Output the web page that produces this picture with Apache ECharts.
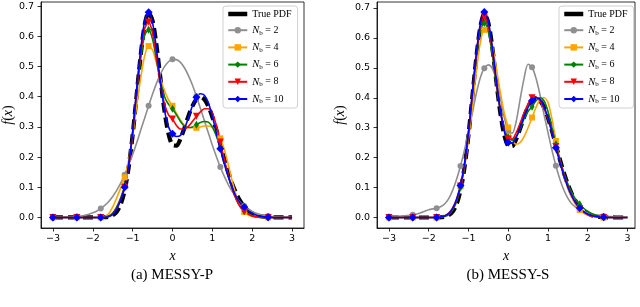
<!DOCTYPE html>
<html><head><meta charset="utf-8">
<script src="https://cdn.jsdelivr.net/npm/echarts@6/dist/echarts.min.js"></script>
<style>html,body{margin:0;padding:0;background:#fff}#c{width:640px;height:307px}</style>
</head><body><div id="c"></div>
<script>
const xs = [-3,-2.9,-2.8,-2.7,-2.6,-2.5,-2.4,-2.3,-2.2,-2.1,-2,-1.9,-1.8,-1.7,-1.6,-1.5,-1.4,-1.3,-1.2,-1.1,-1,
 -0.9,-0.8,-0.7,-0.6,-0.5,-0.4,-0.3,-0.2,-0.1,0,0.1,0.2,0.3,0.4,0.5,0.6,0.7,0.8,0.9,1,
 1.1,1.2,1.3,1.4,1.5,1.6,1.7,1.8,1.9,2,2.1,2.2,2.3,2.4,2.5,2.6,2.7,2.8,2.9,3];

const trueP = [0,0,0,0,0,0,0,0,0,0,0,
 0.0001,0.0002,0.0008,0.0026,0.0074,0.0191,0.0438,0.0903,0.1666,0.274,
 0.405,0.536,0.637,0.679,0.651,0.568,0.457,0.352,0.277,0.240,
 0.238,0.261,0.297,0.336,0.369,0.391,0.399,0.391,0.368,0.333,
 0.290,0.242,0.194,0.150,0.111,0.079,0.054,0.0355,0.0224,0.0136,
 0.0079,0.0044,0.0024,0.0012,0.0006,0.0003,0.0001,0.0001,0,0];

// MESSY-P
const p2 = [0.0002,0.0003,0.0005,0.0009,0.0014,0.0022,0.0033,0.0049,0.0073,0.0106,0.0152,
 0.0213,0.0294,0.0398,0.0531,0.0697,0.0898,0.1137,0.1416,0.1735,0.209,
 0.247,0.288,0.329,0.370,0.409,0.445,0.476,0.500,0.516,0.524,
 0.523,0.514,0.496,0.470,0.439,0.402,0.362,0.321,0.280,0.239,
 0.202,0.167,0.136,0.109,0.0854,0.0660,0.0502,0.0375,0.0276,0.0199,
 0.0141,0.0099,0.0068,0.0046,0.0030,0.0020,0.0013,0.0008,0.0005,0.0003];
const p4 = [0,0,0,0,0,0,0,0,0,0,0,0,0,
 0.003,0.012,0.035,0.065,0.098,0.133,0.19,0.27,
 0.37,0.46,0.535,0.568,0.555,0.51,0.46,0.42,0.39,0.37,
 0.345,0.322,0.305,0.298,0.297,0.297,0.30,0.303,0.303,0.298,
 0.285,0.262,0.225,0.175,0.12,0.072,0.038,0.018,0.008,0.003,
 0.001,0,0,0,0,0,0,0,0,0];
const p6 = [0,0,0,0,0,0,0,0,0,0,0,0,0,
 0.001,0.005,0.015,0.035,0.065,0.105,0.175,0.28,
 0.41,0.525,0.603,0.622,0.59,0.52,0.45,0.40,0.375,0.36,
 0.34,0.318,0.303,0.298,0.30,0.307,0.315,0.318,0.316,0.30,
 0.27,0.232,0.185,0.138,0.095,0.06,0.035,0.021,0.012,0.006,
 0.003,0.001,0,0,0,0,0,0,0,0];
const p8 = [0,0,0,0,0,0,0,0,0,0,0,0,0,0,
 0.003,0.012,0.03,0.06,0.10,0.17,0.28,
 0.42,0.54,0.625,0.648,0.61,0.53,0.44,0.375,0.34,0.326,
 0.305,0.293,0.293,0.302,0.318,0.335,0.35,0.36,0.36,0.345,
 0.305,0.25,0.192,0.14,0.095,0.06,0.035,0.02,0.011,0.005,
 0.002,0.001,0,0,0,0,0,0,0,0];
const p10 = [0,0,0,0,0,0,0,0,0,0,0,0,0,0,
 0.003,0.01,0.028,0.058,0.10,0.175,0.285,
 0.425,0.555,0.65,0.68,0.645,0.555,0.445,0.355,0.30,0.277,
 0.268,0.272,0.295,0.33,0.37,0.398,0.41,0.405,0.38,0.335,
 0.28,0.228,0.177,0.135,0.098,0.068,0.048,0.035,0.022,0.014,
 0.008,0.004,0.002,0.001,0,0,0,0,0,0];

// MESSY-S
const s2 = [0.002,0.003,0.004,0.005,0.006,0.007,0.009,0.012,0.016,0.021,0.026,
 0.029,0.031,0.036,0.045,0.062,0.09,0.127,0.172,0.225,0.285,
 0.35,0.415,0.468,0.499,0.51,0.498,0.46,0.40,0.335,0.29,
 0.282,0.32,0.395,0.465,0.512,0.502,0.465,0.41,0.345,0.285,
 0.225,0.173,0.128,0.092,0.065,0.046,0.034,0.026,0.02,0.016,
 0.012,0.009,0.007,0.005,0.004,0.003,0.002,0.002,0.001,0.001];
const s4 = [0,0,0,0,0,0,0,0,0,0,0,0,0,
 0.002,0.006,0.015,0.033,0.062,0.105,0.17,0.26,
 0.37,0.49,0.585,0.627,0.622,0.575,0.50,0.42,0.35,0.301,
 0.26,0.245,0.25,0.27,0.30,0.334,0.368,0.393,0.40,0.385,
 0.33,0.256,0.19,0.14,0.098,0.066,0.042,0.025,0.015,0.009,
 0.005,0.003,0.001,0,0,0,0,0,0,0];
const s6 = [0,0,0,0,0,0,0,0,0,0,0,0,0,0,
 0.003,0.01,0.025,0.052,0.10,0.17,0.275,
 0.41,0.535,0.625,0.65,0.62,0.545,0.445,0.36,0.30,0.268,
 0.258,0.27,0.295,0.33,0.355,0.37,0.39,0.40,0.39,0.355,
 0.30,0.245,0.195,0.15,0.113,0.083,0.06,0.044,0.031,0.021,
 0.013,0.008,0.004,0.002,0.001,0,0,0,0,0];
const s8 = [0,0,0,0,0,0,0,0,0,0,0,0,0,
 0.002,0.006,0.013,0.03,0.058,0.105,0.175,0.28,
 0.415,0.545,0.64,0.67,0.64,0.56,0.455,0.36,0.295,0.262,
 0.262,0.283,0.315,0.35,0.38,0.40,0.402,0.39,0.365,0.33,
 0.285,0.237,0.19,0.145,0.105,0.073,0.048,0.03,0.018,0.01,
 0.005,0.002,0.001,0,0,0,0,0,0,0];
const s10 = [0,0,0,0,0,0,0,0,0,0,0,0,0,
 0.002,0.005,0.013,0.03,0.06,0.107,0.18,0.285,
 0.42,0.55,0.648,0.687,0.655,0.57,0.46,0.36,0.29,0.251,
 0.248,0.268,0.30,0.338,0.368,0.39,0.40,0.395,0.37,0.335,
 0.285,0.233,0.185,0.14,0.102,0.072,0.048,0.032,0.02,0.012,
 0.007,0.004,0.002,0.001,0,0,0,0,0,0];

const xTicks = [-3,-2,-1,0,1,2,3];
const yTicks = [0,0.1,0.2,0.3,0.4,0.5,0.6,0.7];
const markerXs = [-3,-2.4,-1.8,-1.2,-0.6,0,0.6,1.2,1.8,2.4];
const names = ['True PDF','N_b = 2','N_b = 4','N_b = 6','N_b = 8','N_b = 10'];
const captions = ['(a) MESSY-P','(b) MESSY-S'];

const styles = [
  {color:'#000000', symbol:'none', width:4.2, dash:[10,5]},
  {color:'#8f8f8f', symbol:'circle', size:6},
  {color:'#ffa500', symbol:'rect', size:6},
  {color:'#008000', symbol:'path://M0,-5L2.2,0L0,5L-2.2,0Z', size:[5,8]},
  {color:'#ff0000', symbol:'triangle', size:7, rotate:180},
  {color:'#0000ff', symbol:'diamond', size:8}
];

function isMarker(x){ return markerXs.some(m => Math.abs(m - x) < 1e-6); }

function mk(ys, k, gi){
  const st = styles[k];
  return {
    type:'line', name:names[k], xAxisIndex:gi, yAxisIndex:gi,
    smooth:0.3, symbol:st.symbol, symbolSize:st.size||6, symbolRotate:st.rotate||0,
    showAllSymbol:true, animation:false,
    lineStyle:{color:st.color, width:st.width||1.6, type:st.dash||'solid'},
    itemStyle:{color:st.color},
    emphasis:{disabled:true},
    data: xs.map((x,i) => { const o = {value:[x, ys[i]]}; if (!isMarker(x)) o.symbol = 'none'; return o; })
  };
}

const rich = {
  r:{fontFamily:'Liberation Serif', fontSize:10, color:'#000', lineHeight:12},
  i:{fontFamily:'Liberation Serif', fontStyle:'italic', fontSize:10.5, color:'#000', lineHeight:12},
  s:{fontFamily:'Liberation Serif', fontSize:7, color:'#000', lineHeight:6, verticalAlign:'bottom'}
};
function legend(left){
  return {
    left:left, top:6, orient:'vertical', itemWidth:19, itemHeight:8, itemGap:5.7,
    backgroundColor:'rgba(255,255,255,0.8)', borderColor:'#d0d0d0', borderWidth:1, borderRadius:3,
    padding:[3,6,3,3], selectedMode:false,
    textStyle:{fontFamily:'Liberation Serif', fontSize:10, color:'#000', rich:rich},
    formatter: n => n === 'True PDF' ? '{r|True PDF}' : '{i|N}{s|b}{r| = ' + n.split('= ')[1] + '}',
    data: names.map((n,k) => k === 0 ? {name:n, itemStyle:{opacity:0}, lineStyle:{type:'solid', width:4.5}} : {name:n})
  };
}

const axisFont = {fontFamily:'DejaVu Sans', fontSize:9.5, color:'#000'};
function xAx(gi, max){
  return {type:'value', gridIndex:gi, min:-3.3, max:max,
    axisLine:{show:true, onZero:false, lineStyle:{color:'#000', width:0.8}},
    axisTick:{show:true, length:3.5, customValues:xTicks, lineStyle:{color:'#000', width:0.8}},
    axisLabel:Object.assign({customValues:xTicks, margin:6, formatter:v => String(v).replace('-','\u2212')}, axisFont),
    splitLine:{show:false},
    name:'x', nameLocation:'middle', nameGap:21,
    nameTextStyle:{fontFamily:'Liberation Serif', fontStyle:'italic', fontSize:14, color:'#000'}};
}
function yAx(gi, max, gap){
  return {type:'value', gridIndex:gi, min:-0.035, max:max,
    axisLine:{show:true, onZero:false, lineStyle:{color:'#000', width:0.8}},
    axisTick:{show:true, length:3.5, customValues:yTicks, lineStyle:{color:'#000', width:0.8}},
    axisLabel:Object.assign({customValues:yTicks, margin:7, formatter:v => v.toFixed(1)}, axisFont),
    splitLine:{show:false},
    name:'{i|f}{r|(}{i|x}{r|)}', nameLocation:'middle', nameGap:gap,
    nameTextStyle:{rich:{
      i:{fontFamily:'Liberation Serif', fontStyle:'italic', fontSize:14, color:'#000'},
      r:{fontFamily:'Liberation Serif', fontSize:14, color:'#000'}}}};
}

const chart = echarts.init(document.getElementById('c'), null, {renderer:'canvas'});
chart.setOption({
  animation:false,
  backgroundColor:'#ffffff',
  grid:[
    {left:41, top:2, width:263, height:226, show:true, borderColor:'#000', borderWidth:0.8, backgroundColor:'transparent'},
    {left:377, top:2, width:258, height:226, show:true, borderColor:'#000', borderWidth:0.8, backgroundColor:'transparent'}
  ],
  xAxis:[xAx(0, 3.3), xAx(1, 3.19)],
  yAxis:[yAx(0, 0.714, 23), yAx(1, 0.72, 30)],
  legend:[legend(223), legend(559)],
  graphic:[
    {type:'text', x:172, y:275, style:{text:captions[0], fontFamily:'Liberation Serif', fontSize:15, fill:'#000', align:'center', verticalAlign:'middle'}},
    {type:'text', x:508, y:275, style:{text:captions[1], fontFamily:'Liberation Serif', fontSize:15, fill:'#000', align:'center', verticalAlign:'middle'}}
  ],
  series:[
    mk(trueP,0,0), mk(p2,1,0), mk(p4,2,0), mk(p6,3,0), mk(p8,4,0), mk(p10,5,0),
    mk(trueP,0,1), mk(s2,1,1), mk(s4,2,1), mk(s6,3,1), mk(s8,4,1), mk(s10,5,1)
  ]
});
</script></body></html>
